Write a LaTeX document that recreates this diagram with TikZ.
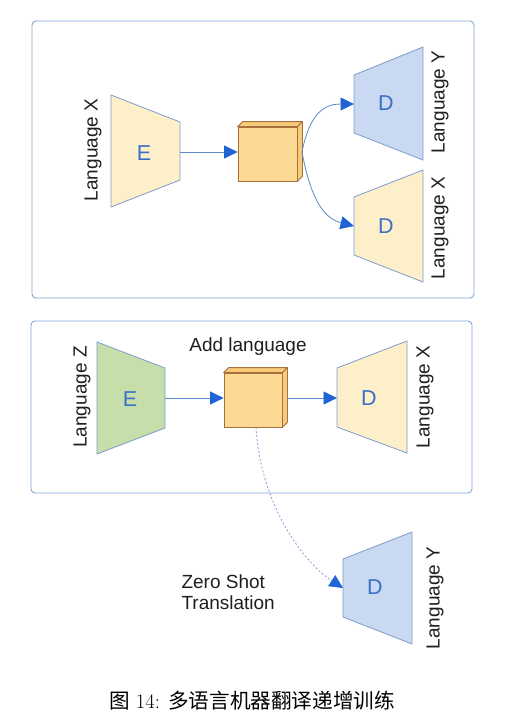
\documentclass[tikz,border=0pt]{standalone}
\usepackage{fontspec}
\setsansfont{Liberation Sans}
\newfontfamily\cjk{Noto Sans CJK SC}
\usetikzlibrary{arrows.meta}
\definecolor{frameblue}{HTML}{7FA6DA}
\definecolor{trapborder}{HTML}{7E9CCD}
\definecolor{yelfill}{HTML}{FCEFCA}
\definecolor{bluefill}{HTML}{C9D9F1}
\definecolor{greenfill}{HTML}{C6DEA9}
\definecolor{cubefill}{HTML}{FDDA93}
\definecolor{cubeside}{HTML}{F8CB7A}
\definecolor{cubeborder}{HTML}{A8703C}
\definecolor{letterblue}{HTML}{3C6FC8}
\definecolor{linkblue}{HTML}{5E88CC}
\definecolor{tipblue}{HTML}{1F64D4}
\definecolor{dashblue}{HTML}{7FA1D8}
\begin{document}
\begin{tikzpicture}[x=1pt,y=-1pt,
  frame/.style={draw=frameblue, line width=0.9pt, rounded corners=4pt},
  trap/.style={draw=trapborder, line width=0.8pt},
  lbl/.style={font=\sffamily\fontsize{19}{22}\selectfont, rotate=90, text=black!88},
  txt/.style={font=\sffamily\fontsize{19}{21}\selectfont, text=black!88},
  letter/.style={font=\sffamily\fontsize{21.5}{24}\selectfont, text=letterblue},
  cubefront/.style={draw=cubeborder, fill=cubefill, line width=0.8pt, inner sep=0pt},
  cubeface/.style={draw=cubeborder, fill=cubeside, line width=0.8pt, line join=round},
  conn/.style={draw=linkblue, line width=0.8pt, -{Triangle[length=13.5pt,width=13pt,color=tipblue]}},
  zconn/.style={draw=dashblue, line width=0.8pt, dash pattern=on 2pt off 2pt, -{Triangle[length=13.5pt,width=13pt,color=tipblue]}}
]
\useasboundingbox[fill=white] (0,0) rectangle (504,717);
% frames
\draw[frame] (32,21) rectangle (474,298);
\draw[frame] (31,321) rectangle (472,493);
% ---------- top panel ----------
\draw[trap, fill=yelfill] (111,95) -- (180,122) -- (180,180) -- (111,207) -- cycle;
\draw[trap, fill=bluefill] (354,75) -- (423,47) -- (423,160) -- (354,133) -- cycle;
\draw[trap, fill=yelfill] (354,197) -- (423,170) -- (423,282) -- (354,255) -- cycle;
\coordinate (e1r) at (180,152);
\coordinate (d1l) at (354,104);
\coordinate (d2l) at (354,226);
\node[letter] (E1) at (144,153) {E};
\node[letter] (D1) at (386,103) {D};
\node[letter] (D2) at (386,226) {D};
\node[lbl] (L1) at (93,150) {Language X};
\node[lbl] (L2) at (440,102) {Language Y};
\node[lbl] (L3) at (440,228) {Language X};
% cube 1
\node[cubefront, minimum width=59pt, minimum height=54pt] (c1) at (267.5,154) {};
\draw[cubeface] (c1.north west) -- ++(5,-5) -- ([shift={(5,-5)}]c1.north east) -- (c1.north east) -- cycle;
\draw[cubeface] (c1.north east) -- ++(5,-5) -- ([shift={(5,-5)}]c1.south east) -- (c1.south east) -- cycle;
\coordinate (c1r) at (302,152);
\draw[conn] (e1r) -- (c1.west |- e1r);
\draw[conn] (c1r) .. controls (310,112) and (325,104) .. (d1l);
\draw[conn] (c1r) .. controls (310,195) and (322,218) .. (d2l);
% ---------- bottom panel ----------
\draw[trap, fill=greenfill] (97,342) -- (165,368) -- (165,428) -- (97,454) -- cycle;
\draw[trap, fill=yelfill] (337,368) -- (407,341) -- (407,453) -- (337,427) -- cycle;
\draw[trap, fill=bluefill] (343,559) -- (412,532) -- (412,644) -- (343,617) -- cycle;
\coordinate (e2r) at (165,398);
\coordinate (d3l) at (337,398);
\coordinate (d4l) at (343,588);
\node[letter] (E2) at (130,399) {E};
\node[letter] (D3) at (369,398) {D};
\node[letter] (D4) at (375,587) {D};
\node[lbl] (L4) at (82,397) {Language Z};
\node[lbl] (L5) at (425,397) {Language X};
\node[lbl] (L6) at (435,598) {Language Y};
\node[txt] (add) at (248,347) {Add language};
\node[txt, anchor=west, align=left] (zs) at (178,592) {Zero Shot\\Translation};
% cube 2
\node[cubefront, minimum width=58pt, minimum height=54pt] (c2) at (253,400) {};
\draw[cubeface] (c2.north west) -- ++(5,-5) -- ([shift={(5,-5)}]c2.north east) -- (c2.north east) -- cycle;
\draw[cubeface] (c2.north east) -- ++(5,-5) -- ([shift={(5,-5)}]c2.south east) -- (c2.south east) -- cycle;
\coordinate (c2r) at (287,398);
\coordinate (c2b) at (256,427);
\draw[conn] (e2r) -- (c2.west |- e2r);
\draw[conn] (c2r) -- (d3l);
\draw[zconn] (c2b) .. controls (260,500) and (300,560) .. (d4l);
% caption
\node[font=\fontsize{20.6}{24}\selectfont] (cap) at (252,701) {{\cjk 图} 14: {\cjk 多语言机器翻译递增训练}};
\end{tikzpicture}
\end{document}
